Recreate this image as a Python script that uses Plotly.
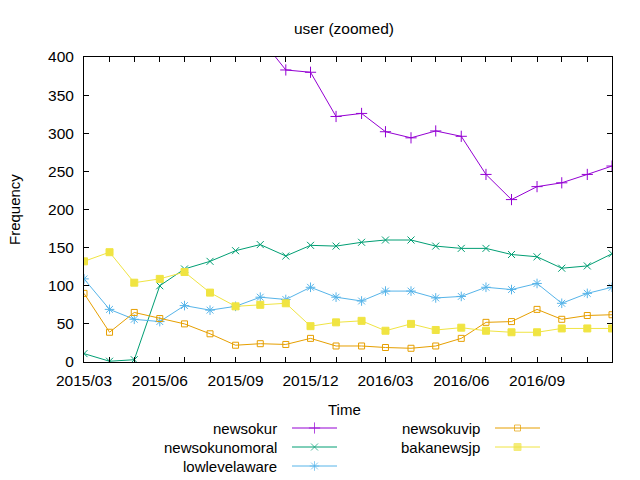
import plotly.graph_objects as go

W, H = 640, 480
L, R, T, B = 84, 612, 57, 362  # plot area in pixels

months = ["2015-03-01", "2015-04-01", "2015-05-01", "2015-06-01", "2015-07-01", "2015-08-01",
          "2015-09-01", "2015-10-01", "2015-11-01", "2015-12-01", "2016-01-01", "2016-02-01",
          "2016-03-01", "2016-04-01", "2016-05-01", "2016-06-01", "2016-07-01", "2016-08-01",
          "2016-09-01", "2016-10-01", "2016-11-01", "2016-12-01"]
tick_vals = ["2015-03-01", "2015-06-01", "2015-09-01", "2015-12-01",
             "2016-03-01", "2016-06-01", "2016-09-01"]
tick_text = ["2015/03", "2015/06", "2015/09", "2015/12", "2016/03", "2016/06", "2016/09"]

newsokur = [620, 590, 560, 530, 500, 470, 450, 425, 383, 380, 322, 326,
            302, 294, 303, 296, 246, 213, 230, 235, 246, 257]
newsokunomoral = [11, 1, 3, 100, 122, 132, 146, 154, 139, 153, 152, 157,
                  160, 160, 152, 149, 149, 141, 138, 123, 126, 142]
lowlevelaware = [109, 69, 56, 53, 74, 68, 73, 85, 82, 98, 85, 80,
                 93, 93, 84, 86, 98, 95, 103, 77, 90, 98]
newsokuvip = [90, 39, 65, 57, 50, 37, 22, 24, 23, 31, 21, 21,
              19, 18, 21, 31, 52, 53, 69, 56, 61, 62]
bakanewsjp = [132, 144, 104, 109, 118, 91, 73, 75, 77, 47, 52, 54,
              41, 50, 42, 45, 41, 39, 39, 44, 44, 44]

series = [
    ("newsokur", newsokur, "#9400D3", "cross-thin", 8),
    ("newsokunomoral", newsokunomoral, "#009E73", "x-thin", 7),
    ("lowlevelaware", lowlevelaware, "#56B4E9", "asterisk-open", 8),
    ("newsokuvip", newsokuvip, "#E69F00", "square-open", 6),
    ("bakanewsjp", bakanewsjp, "#F0E442", "square", 7),
]

FONT = "Liberation Sans, Arial, sans-serif"
fig = go.Figure()

for name, vals, col, sym, sz in series:
    fig.add_trace(go.Scatter(
        x=months, y=vals, name=name, mode="lines+markers",
        line=dict(color=col, width=1),
        marker=dict(symbol=sym, size=sz, color=col, line=dict(color=col, width=1)),
        showlegend=False,
    ))

# custom gnuplot-style key (text right-aligned, sample to the right)
key_pos = [(279, 428), (279, 447), (279, 466), (482, 428), (482, 447)]
for (name, vals, col, sym, sz), (tx, ty) in zip(series, key_pos):
    x0 = tx + 13
    fig.add_trace(go.Scatter(
        x=[x0, x0 + 22.5, x0 + 45], y=[ty, ty, ty], mode="lines+markers",
        xaxis="x2", yaxis="y2", showlegend=False, hoverinfo="skip",
        line=dict(color=col, width=1),
        marker=dict(symbol=sym, size=[0, sz, 0], color=col, line=dict(color=col, width=1)),
    ))
    fig.add_annotation(x=tx / W, y=1 - ty / H, xref="paper", yref="paper",
                       text=name, showarrow=False, xanchor="right", yanchor="middle",
                       font=dict(size=15, color="black", family=FONT))

fig.add_annotation(x=344 / W, y=1 - 28 / H, xref="paper", yref="paper", text="user (zoomed)",
                   showarrow=False, xanchor="center", yanchor="middle",
                   font=dict(size=15.5, color="black", family=FONT))
fig.add_annotation(x=344 / W, y=1 - 409 / H, xref="paper", yref="paper", text="Time",
                   showarrow=False, xanchor="center", yanchor="middle",
                   font=dict(size=15, color="black", family=FONT))
fig.add_annotation(x=14 / W, y=1 - 210 / H, xref="paper", yref="paper", text="Frequency",
                   showarrow=False, xanchor="center", yanchor="middle", textangle=-90,
                   font=dict(size=15, color="black", family=FONT))

fig.update_layout(
    width=W, height=H,
    margin=dict(l=0, r=0, t=0, b=0, pad=0, autoexpand=False),
    paper_bgcolor="white", plot_bgcolor="rgba(0,0,0,0)",
    font=dict(family=FONT, size=15, color="black"),
    xaxis=dict(
        domain=[L / W, R / W], type="date", automargin=False,
        range=["2015-03-01", "2016-12-01"],
        tickmode="array", tickvals=tick_vals, ticktext=tick_text,
        ticks="inside", ticklen=5, tickcolor="black", ticklabelstandoff=4,
        minor=dict(dtick="M1", tick0="2015-03-01", ticks="inside", ticklen=5, tickcolor="black"),
        showline=True, linecolor="black", linewidth=1, mirror="allticks",
        showgrid=False, zeroline=False, fixedrange=True,
        tickfont=dict(size=15.5, family=FONT),
    ),
    yaxis=dict(
        domain=[1 - B / H, 1 - T / H], range=[0, 400], dtick=50, automargin=False,
        ticks="inside", ticklen=5, tickcolor="black", ticklabelstandoff=6,
        showline=True, linecolor="black", linewidth=1, mirror="allticks",
        showgrid=False, zeroline=False, fixedrange=True,
        tickfont=dict(size=15.5, family=FONT),
    ),
    xaxis2=dict(domain=[0, 1], range=[0, W], visible=False, showticklabels=False,
                automargin=False, anchor="y2", fixedrange=True),
    yaxis2=dict(domain=[0, 1], range=[H, 0], visible=False, showticklabels=False,
                automargin=False, anchor="x2", fixedrange=True),
)

fig.write_html("out.html", config={"displayModeBar": False},
               post_script="document.body.style.margin='0px';document.body.style.overflow='hidden';")
